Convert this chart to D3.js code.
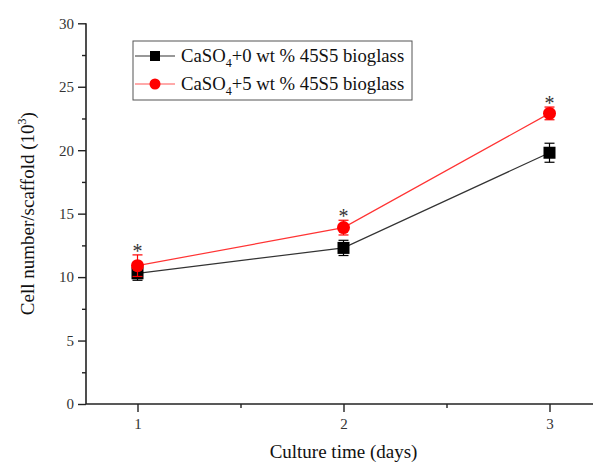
<!DOCTYPE html>
<html><head><meta charset="utf-8">
<script src="https://cdn.jsdelivr.net/npm/d3@7"></script>
<style>body{margin:0;background:#fff}svg{display:block}text{font-family:"Liberation Serif","Times New Roman",serif}</style>
</head><body><div id="c"></div>
<script>
const days = [1, 2, 3];
const black = [10.3, 12.3, 19.8];
const blackErr = [0.55, 0.6, 0.75];
const red = [10.9, 13.9, 22.9];
const redErr = [0.85, 0.58, 0.5];
const yTicks = [0, 5, 10, 15, 20, 25, 30];
const xTicks = [1, 2, 3];
const seriesNames = ["+0 wt % 45S5 bioglass", "+5 wt % 45S5 bioglass"];

const W = 593, H = 462;
const svg = d3.select("#c").append("svg").attr("width", W).attr("height", H);
const x = d3.scaleLinear().domain([0.75, 3.25]).range([86, 601]);
const y = d3.scaleLinear().domain([0, 30]).range([404, 23.3]);

// axes
const gy = svg.append("g").attr("transform", "translate(86,0)")
  .call(d3.axisLeft(y).tickValues(yTicks).tickSize(8).tickPadding(4).tickFormat(d3.format("d")));
svg.append("g").attr("transform", "translate(86,0)")
  .call(d3.axisLeft(y).tickValues(d3.range(2.5, 30, 5)).tickSize(4).tickFormat(""))
  .call(g => g.select(".domain").remove());
const gx = svg.append("g").attr("transform", "translate(0,404)")
  .call(d3.axisBottom(x).tickValues(xTicks).tickSize(8).tickPadding(6).tickFormat(d3.format("d")));
svg.append("g").attr("transform", "translate(0,404)")
  .call(d3.axisBottom(x).tickValues([1.5, 2.5]).tickSize(4).tickFormat(""))
  .call(g => g.select(".domain").remove());
svg.selectAll(".domain").attr("stroke", "#222").attr("stroke-width", 1.6);
svg.selectAll(".tick line").attr("stroke", "#222").attr("stroke-width", 1.4);
svg.selectAll(".tick text").attr("font-size", 15).attr("fill", "#333")
  .attr("font-family", "Liberation Serif, serif");
gy.select(".domain").attr("d", `M0,${y(30)}V${y(0)}`);
gx.select(".domain").attr("d", `M${x(0.75)},0H${x(3.25)}`);

function drawSeries(vals, errs, color, lineColor, shape) {
  const g = svg.append("g");
  g.append("path").datum(days.map((d, i) => [d, vals[i]]))
    .attr("fill", "none").attr("stroke", lineColor).attr("stroke-width", 1.2)
    .attr("d", d3.line().x(d => x(d[0])).y(d => y(d[1])));
  days.forEach((d, i) => {
    const cx = x(d), t = y(vals[i] + errs[i]), b = y(vals[i] - errs[i]);
    g.append("line").attr("x1", cx).attr("x2", cx).attr("y1", t).attr("y2", b).attr("stroke", color).attr("stroke-width", 1.2);
    [t, b].forEach(yy => g.append("line").attr("x1", cx - 5).attr("x2", cx + 5).attr("y1", yy).attr("y2", yy).attr("stroke", color).attr("stroke-width", 1.2));
  });
  days.forEach((d, i) => {
    const cx = x(d), cy = y(vals[i]);
    if (shape === "square") g.append("rect").attr("x", cx - 6).attr("y", cy - 6).attr("width", 12).attr("height", 12).attr("fill", color);
    else g.append("circle").attr("cx", cx).attr("cy", cy).attr("r", 6.5).attr("fill", color);
  });
  return g;
}
drawSeries(black, blackErr, "#000", "#333", "square");
drawSeries(red, redErr, "#f00", "#f33", "circle");

// asterisks
days.forEach((d, i) => {
  svg.append("text").attr("x", x(d)).attr("y", y(red[i] + redErr[i]) + 3)
    .attr("text-anchor", "middle").attr("font-size", 20).attr("fill", "#333")
    .attr("font-family", "DejaVu Sans, sans-serif").text("*");
});

// legend
const lg = svg.append("g");
lg.append("rect").attr("x", 133).attr("y", 41).attr("width", 279).attr("height", 59)
  .attr("fill", "#fff").attr("stroke", "#555").attr("stroke-width", 1);
const rows = [{c: "#000", lc: "#333", s: "square", yy: 56}, {c: "#f00", lc: "#f55", s: "circle", yy: 84}];
rows.forEach((r, i) => {
  lg.append("line").attr("x1", 135).attr("x2", 175).attr("y1", r.yy).attr("y2", r.yy).attr("stroke", r.lc).attr("stroke-width", 1.2);
  if (r.s === "square") lg.append("rect").attr("x", 150).attr("y", r.yy - 5).attr("width", 10).attr("height", 10).attr("fill", r.c);
  else lg.append("circle").attr("cx", 155).attr("cy", r.yy).attr("r", 5.5).attr("fill", r.c);
  const t = lg.append("text").attr("x", 181).attr("y", r.yy + 6).attr("font-size", 18.7).attr("fill", "#111");
  t.append("tspan").text("CaSO");
  t.append("tspan").attr("font-size", 12).attr("dy", 5).text("4");
  t.append("tspan").attr("dy", -5).text(seriesNames[i]);
});

// axis titles
svg.append("text").attr("x", x(2)).attr("y", 458).attr("text-anchor", "middle")
  .attr("font-size", 19).attr("fill", "#111").text("Culture time (days)");
const yt = svg.append("text").attr("transform", `translate(34,${(y(0)+y(30))/2}) rotate(-90)`)
  .attr("text-anchor", "middle").attr("font-size", 19).attr("fill", "#111");
yt.append("tspan").text("Cell number/scaffold (10");
yt.append("tspan").attr("font-size", 12).attr("dy", -8).text("3");
yt.append("tspan").attr("dy", 8).text(")");
</script></body></html>
